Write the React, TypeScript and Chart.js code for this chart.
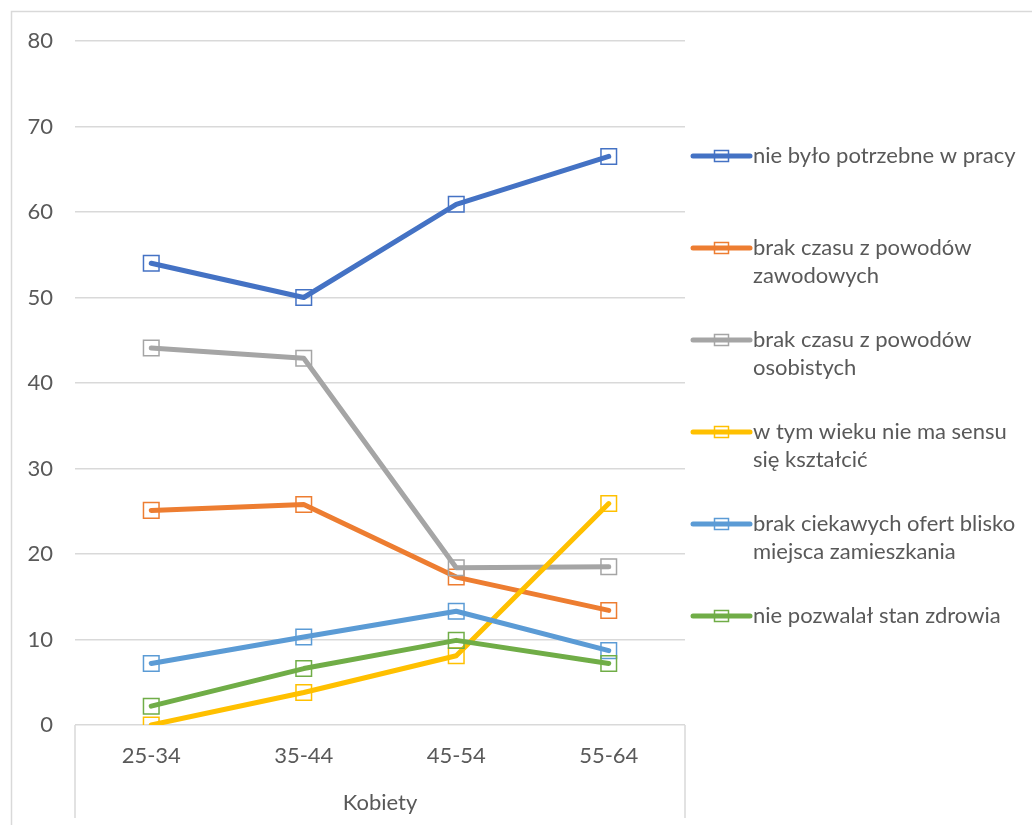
import React, { useEffect, useRef } from "react";
import { Chart, registerables } from "chart.js";

Chart.register(...registerables);

// Age groups on the horizontal axis and the group they belong to
const categories = ["25-34", "35-44", "45-54", "55-64"];
const groupLabel = "Kobiety";

// Legend texts (already split into lines)
const seriesLabels: string[][] = [
  ["nie było potrzebne w pracy"],
  ["brak czasu z powodów", "zawodowych"],
  ["brak czasu z powodów", "osobistych"],
  ["w tym wieku nie ma sensu", "się kształcić"],
  ["brak ciekawych ofert blisko", "miejsca zamieszkania"],
  ["nie pozwalał stan zdrowia"],
];

// Percentages per age group
const notNeededAtWork = [54.0, 50.0, 60.9, 66.5];
const noTimeWork = [25.1, 25.8, 17.3, 13.4];
const noTimePersonal = [44.1, 42.9, 18.4, 18.5];
const noSenseAtAge = [0.0, 3.8, 8.1, 25.9];
const noOffersNearby = [7.2, 10.3, 13.3, 8.7];
const healthReasons = [2.2, 6.6, 9.9, 7.2];

const seriesValues = [
  notNeededAtWork,
  noTimeWork,
  noTimePersonal,
  noSenseAtAge,
  noOffersNearby,
  healthReasons,
];

const seriesColors = ["#4472C4", "#ED7D31", "#A5A5A5", "#FFC000", "#5B9BD5", "#70AD47"];

// Y axis range
const yMin = 0;
const yMax = 80;
const yStep = 10;

const FONT = "Lato, 'Open Sans', sans-serif";
const TEXT_COLOR = "#595959";
const GRID_COLOR = "#D9D9D9";

// Outer frame, category separators and the custom legend
const decorPlugin = {
  id: "decor",
  beforeDraw(chart: any) {
    const { ctx, chartArea, width, height } = chart;
    ctx.save();
    ctx.fillStyle = "#ffffff";
    ctx.fillRect(0, 0, width, height);
    ctx.strokeStyle = GRID_COLOR;
    ctx.lineWidth = 1.5;
    ctx.beginPath();
    ctx.moveTo(11.5, height + 5);
    ctx.lineTo(11.5, 11.5);
    ctx.lineTo(width + 5, 11.5);
    ctx.stroke();

    ctx.lineWidth = 1.5;
    ctx.beginPath();
    [chartArea.left, chartArea.right].forEach((x: number) => {
      ctx.moveTo(x, chartArea.bottom);
      ctx.lineTo(x, height - 7);
    });
    ctx.stroke();
    ctx.restore();
  },
  afterDraw(chart: any) {
    const { ctx, chartArea } = chart;
    const lineStart = chartArea.right + 8;
    const lineEnd = lineStart + 57;
    const textX = lineStart + 60;
    const firstY = 156;
    const itemGap = 92;
    const lineHeight = 28;
    ctx.save();
    ctx.font = `22px ${FONT}`;
    ctx.textBaseline = "middle";
    ctx.textAlign = "left";
    chart.data.datasets.forEach((ds: any, i: number) => {
      const y = firstY + i * itemGap;
      ctx.strokeStyle = ds.borderColor;
      ctx.lineWidth = 5;
      ctx.lineCap = "round";
      ctx.beginPath();
      ctx.moveTo(lineStart, y);
      ctx.lineTo(lineEnd, y);
      ctx.stroke();
      const mx = (lineStart + lineEnd) / 2;
      ctx.lineWidth = 1.5;
      ctx.strokeRect(mx - 7, y - 5.5, 14, 11);
      ctx.fillStyle = TEXT_COLOR;
      (ds.legendLines as string[]).forEach((t, j) => {
        ctx.fillText(t, textX, y + j * lineHeight);
      });
    });
    ctx.restore();
  },
};

export default function App() {
  const canvasRef = useRef<HTMLCanvasElement | null>(null);

  useEffect(() => {
    if (!canvasRef.current) return;
    const chart = new Chart(canvasRef.current, {
      type: "line",
      data: {
        labels: categories,
        datasets: seriesValues.map((values, i) => ({
          label: seriesLabels[i].join(" "),
          legendLines: seriesLabels[i],
          data: values,
          borderColor: seriesColors[i],
          backgroundColor: "rgba(0,0,0,0)",
          borderWidth: 5,
          borderCapStyle: "round",
          borderJoinStyle: "round",
          pointStyle: "rect",
          pointRadius: 11,
          pointBorderWidth: 1.5,
          pointBorderColor: seriesColors[i],
          pointBackgroundColor: "rgba(0,0,0,0)",
          tension: 0,
          order: -i,
        })) as any,
      },
      options: {
        animation: false,
        responsive: false,
        maintainAspectRatio: false,
        layout: { padding: { left: 0, top: 41, right: 347, bottom: 0 } },
        plugins: {
          legend: { display: false },
          tooltip: { enabled: false },
        },
        scales: {
          x: {
            type: "category",
            offset: true,
            grid: { display: false, drawTicks: false },
            border: { display: false },
            ticks: {
              color: TEXT_COLOR,
              font: { family: FONT, size: 22 },
              padding: 18,
            },
            title: {
              display: true,
              text: groupLabel,
              color: TEXT_COLOR,
              font: { family: FONT, size: 22 },
              padding: { top: 0, bottom: 9 },
            },
            afterFit(scale: any) {
              scale.height = 100;
            },
          },
          y: {
            min: yMin,
            max: yMax,
            grid: { color: GRID_COLOR, lineWidth: 1.5, drawTicks: false },
            border: { display: false },
            ticks: {
              stepSize: yStep,
              color: TEXT_COLOR,
              font: { family: FONT, size: 22 },
              padding: 22,
            },
            afterFit(scale: any) {
              scale.width = 75;
            },
          },
        },
      },
      plugins: [decorPlugin],
    });
    return () => chart.destroy();
  }, []);

  return (
    <div style={{ position: "fixed", left: 0, top: 0, width: 1032, height: 825, background: "#fff" }}>
      <canvas ref={canvasRef} width={1032} height={825} style={{ display: "block" }} />
    </div>
  );
}
